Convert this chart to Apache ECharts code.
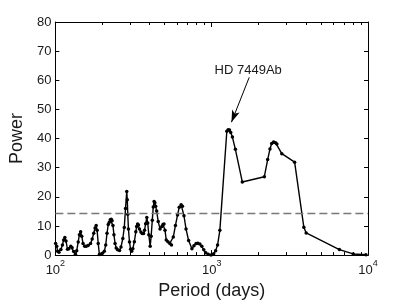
<!DOCTYPE html>
<html>
<head>
<meta charset="utf-8">
<script src="https://cdn.jsdelivr.net/npm/echarts@6/dist/echarts.min.js"></script>
<style>
html,body{margin:0;padding:0;background:#fff;}
#chart{width:407px;height:305px;}
</style>
</head>
<body>
<div id="chart"></div>
<script>
// Periods (days) and periodogram power
const periods = [100.4, 102, 103.4, 105.5, 108.5, 111, 113, 115, 117, 119.6,
  122, 125.5, 128, 131, 134.4, 137, 140, 142.5, 145.1, 147.5,
  150.3, 154, 157.7, 162, 167.9, 172, 176, 179.5, 182.4, 185,
  188, 191.3, 195, 200, 205.7, 210, 214, 218, 221.3, 224.5,
  227.8, 230.5, 233.5, 237, 241, 245, 250, 257.4, 263, 270.1,
  276, 281, 286.2, 288.5, 290.5, 293.4, 298, 303, 307.8, 313,
  320.2, 327, 331, 335.9, 340, 345, 352.4, 359, 366.5, 372,
  378, 384.6, 390, 396, 404.2, 410, 417, 423, 428.2, 433,
  438, 444.7, 455, 467.3, 480, 488, 495.3, 503, 512.1, 525,
  540, 553.3, 568, 586.5, 605, 620, 637.3, 650, 665, 685.2,
  712, 747.6, 770, 795, 815.6, 840, 864.7, 890, 916.4, 950,
  990, 1030, 1060, 1091, 1128, 1250, 1275, 1300, 1324, 1357,
  1418, 1570, 2172, 2281, 2359, 2420, 2490, 2560, 2612, 2809,
  3393, 3886, 4023, 6559, 8040, 9700];
const power = [4.0, 3.0, 1.3, 1.0, 1.9, 3.5, 5.2, 6.0, 4.8, 2.0,
  2.2, 3.0, 2.5, 1.2, 0.3, 1.5, 4.5, 7.0, 8.0, 6.5,
  4.0, 3.0, 3.0, 3.3, 4.0, 5.5, 7.5, 9.3, 10.2, 8.5,
  4.0, 0.2, 0.3, 0.6, 1.3, 3.5, 7.5, 10.5, 11.3, 12.1,
  12.3, 11.8, 10.2, 7.0, 4.0, 2.4, 1.8, 1.6, 2.8, 5.7,
  9.5, 16.0, 21.8, 19.0, 14.0, 9.0, 4.5, 2.0, 1.3, 2.2,
  4.6, 8.0, 9.8, 10.7, 10.3, 9.0, 7.9, 7.4, 7.4, 8.5,
  10.8, 12.9, 11.0, 7.0, 3.0, 6.5, 12.0, 16.5, 18.4, 18.0,
  16.8, 15.1, 11.5, 9.0, 9.8, 10.5, 10.7, 8.5, 5.2, 4.6,
  4.0, 3.5, 6.2, 10.2, 13.8, 16.4, 17.3, 16.8, 13.5, 9.0,
  5.0, 2.2, 3.2, 4.0, 4.1, 3.8, 3.0, 1.8, 0.8, 0.3,
  0.0, 0.5, 1.5, 3.5, 8.5, 42.5, 43.0, 42.9, 42.1, 40.5,
  36.3, 25.1, 26.9, 32.8, 36.4, 38.3, 38.8, 38.6, 38.1, 34.8,
  31.9, 9.6, 7.6, 1.9, 0.4, 0.1];
const threshold = 14.4;
const xMajorTicks = [100, 1000, 10000];
const xMinorTicks = [200, 300, 400, 500, 600, 700, 800, 900, 2000, 3000, 4000, 5000, 6000, 7000, 8000, 9000];
const annotationText = 'HD 7449Ab';
const arrowFrom = [1738, 61];
const arrowTo = [1338, 45.6];
const textAt = [1713, 63.3];

const FONT = '"Liberation Sans", Arial, Helvetica, sans-serif';
const TXT = '#1a1a1a';
const data = periods.map((p, i) => [p, power[i]]);

function xAxisDef(pos, ticks, len, labels) {
  return {
    type: 'log', logBase: 10, min: 100, max: 10000, position: pos,
    axisLine: { show: true, onZero: false, lineStyle: { color: '#000', width: 1 } },
    axisTick: { show: true, inside: true, length: len, customValues: ticks, lineStyle: { color: '#000', width: 1 } },
    axisLabel: labels ? {
      show: true, margin: 4, customValues: xMajorTicks,
      formatter: v => '{b|10}{s|' + Math.round(Math.log10(v)) + '}',
      rich: {
        b: { fontSize: 13, fontFamily: FONT, color: TXT, lineHeight: 18, verticalAlign: 'bottom' },
        s: { fontSize: 9, fontFamily: FONT, color: TXT, lineHeight: 9, verticalAlign: 'top' }
      }
    } : { show: false },
    splitLine: { show: false },
    name: labels ? 'Period (days)' : '',
    nameLocation: 'middle', nameGap: 14,
    nameTextStyle: { fontSize: 18, fontFamily: FONT, color: TXT, verticalAlign: 'top' }
  };
}
function yAxisDef(pos, labels) {
  return {
    type: 'value', min: 0, max: 80, interval: 10, position: pos,
    axisLine: { show: true, onZero: false, lineStyle: { color: '#000', width: 1 } },
    axisTick: { show: true, inside: true, length: 4, lineStyle: { color: '#000', width: 1 } },
    axisLabel: labels ? { show: true, margin: 4, fontSize: 13, fontFamily: FONT, color: TXT } : { show: false },
    splitLine: { show: false },
    name: labels ? 'Power' : '',
    nameLocation: 'middle', nameGap: 19,
    nameTextStyle: { fontSize: 18, fontFamily: FONT, color: TXT }
  };
}

const chart = echarts.init(document.getElementById('chart'), null, { renderer: 'canvas' });
chart.setOption({
  animation: false,
  backgroundColor: '#fff',
  grid: { left: 52, right: 39, top: 22, bottom: 41, containLabel: false },
  xAxis: [
    xAxisDef('bottom', xMajorTicks, 5, true),
    xAxisDef('top', xMajorTicks, 5, false),
    xAxisDef('bottom', xMinorTicks, 3, false),
    xAxisDef('top', xMinorTicks, 3, false)
  ],
  yAxis: [yAxisDef('left', true), yAxisDef('right', false)],
  series: [{
    type: 'line', xAxisIndex: 0, yAxisIndex: 0,
    data: data,
    symbol: 'circle', symbolSize: 3.5, showSymbol: true,
    itemStyle: { color: '#000' },
    lineStyle: { color: '#000', width: 1.4 },
    z: 3,
    markLine: {
      silent: true, animation: false,
      symbol: ['none', 'none'],
      label: { show: false },
      data: [
        { yAxis: threshold, lineStyle: { type: [8, 4], color: '#777', width: 1.3 } },
        [
          { coord: arrowFrom, symbol: 'none', lineStyle: { type: 'solid', color: '#000', width: 1 } },
          { coord: arrowTo, symbol: 'arrow', symbolSize: [6, 12] }
        ]
      ]
    },
    markPoint: {
      silent: true, animation: false,
      symbol: 'circle', symbolSize: 1,
      itemStyle: { color: 'rgba(0,0,0,0)' },
      label: { show: true, position: 'inside', formatter: annotationText, fontSize: 13, fontFamily: FONT, color: TXT },
      data: [{ coord: textAt }]
    }
  }]
});
</script>
</body>
</html>
